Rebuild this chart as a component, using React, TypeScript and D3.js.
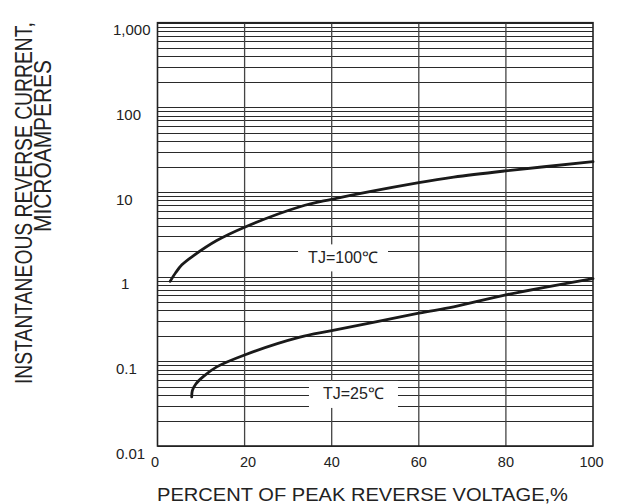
import React, { useEffect, useRef } from "react";
import * as d3 from "d3";

// percent of peak reverse voltage vs current (uA)
const pct100 = [2.9, 4.2, 5.6, 8.2, 13.6, 20, 32.7, 40, 60, 68, 80, 100];
const cur100 = [0.88, 1.12, 1.38, 1.76, 2.67, 3.84, 6.7, 8.2, 12.9, 15.0, 17.8, 22.8];

const pct25 = [7.85, 8.0, 8.8, 10.5, 13.6, 20, 32.7, 40, 60, 68, 80, 100];
const cur25 = [0.038, 0.045, 0.054, 0.066, 0.086, 0.119, 0.193, 0.23, 0.37, 0.44, 0.61, 0.95];

const xTicks = [0, 20, 40, 60, 80, 100];
const xTickLabels = ["0", "20", "40", "60", "80", "100"];
const yTicks = [0.01, 0.1, 1, 10, 100, 1000];
const yTickLabels = ["0.01", "0.1", "1", "10", "100", "1,000"];

const curveLabels = ["TJ=100\u2103", "TJ=25\u2103"];
const labelPct = [42.6, 45];
const labelCur = [1.69, 0.0412];
const labelBoxW = [90, 89];

const FONT = "'Liberation Sans', Arial, sans-serif";

const App = () => {
  const svgRef = useRef(null);

  useEffect(() => {
    if (!svgRef.current) return;
    const W = 617;
    const H = 504;

    const x = d3.scaleLinear().domain([0, 100]).range([157.5, 593]);
    const y = d3.scaleLog().domain([0.01, 1000]).range([446, 22.7]);

    const svg = d3.select(svgRef.current);
    svg.selectAll("*").remove();
    svg.attr("width", W).attr("height", H);

    // horizontal grid: every 1..9 of each decade
    const hLines = [];
    [0.01, 0.1, 1, 10, 100].forEach((d) => {
      for (let k = 1; k < 10; k++) hLines.push(d * k);
    });
    hLines.push(1000);

    svg
      .append("g")
      .selectAll("line")
      .data(hLines)
      .enter()
      .append("line")
      .attr("x1", x(0))
      .attr("x2", x(100))
      .attr("y1", (d) => Math.round(y(d)) + 0.5)
      .attr("y2", (d) => Math.round(y(d)) + 0.5)
      .attr("stroke", "#2a2a2a")
      .attr("stroke-width", 1.1);

    svg
      .append("g")
      .selectAll("line")
      .data([20, 40, 60, 80])
      .enter()
      .append("line")
      .attr("x1", (d) => x(d))
      .attr("x2", (d) => x(d))
      .attr("y1", y(1000))
      .attr("y2", y(0.01))
      .attr("stroke", "#444")
      .attr("stroke-width", 1.3);

    // frame
    svg
      .append("rect")
      .attr("x", x(0))
      .attr("y", y(1000))
      .attr("width", x(100) - x(0))
      .attr("height", y(0.01) - y(1000))
      .attr("fill", "none")
      .attr("stroke", "#222")
      .attr("stroke-width", 1.6);

    // curve label boxes hide the grid
    const labels = svg.append("g");
    curveLabels.forEach((t, i) => {
      const cx = x(labelPct[i]);
      const cy = y(labelCur[i]);
      labels
        .append("rect")
        .attr("x", cx - labelBoxW[i] / 2)
        .attr("y", cy - 13)
        .attr("width", labelBoxW[i])
        .attr("height", 27)
        .attr("fill", "#fff");
      labels
        .append("text")
        .attr("x", cx)
        .attr("y", cy + 5.5)
        .attr("text-anchor", "middle")
        .attr("font-family", FONT)
        .attr("font-size", 16)
        .attr("fill", "#222")
        .text(t);
    });

    const line = d3
      .line()
      .x((d) => x(d[0]))
      .y((d) => y(d[1]))
      .curve(d3.curveCatmullRom.alpha(0.5));

    [
      d3.zip(pct100, cur100),
      d3.zip(pct25, cur25),
    ].forEach((pts) => {
      svg
        .append("path")
        .attr("d", line(pts))
        .attr("fill", "none")
        .attr("stroke", "#1a1a1a")
        .attr("stroke-width", 2.8)
        .attr("stroke-linecap", "round");
    });

    // tick labels
    svg
      .append("g")
      .selectAll("text")
      .data(yTicks)
      .enter()
      .append("text")
      .attr("x", (d) => (d === 1000 ? 113 : d === 1 ? 121 : 116))
      .attr("y", (d) => y(d) + 12.5)
      .attr("font-family", FONT)
      .attr("font-size", 15)
      .attr("fill", "#222")
      .text((d, i) => yTickLabels[i]);

    svg
      .append("g")
      .selectAll("text")
      .data(xTicks)
      .enter()
      .append("text")
      .attr("x", (d) => x(d) - (d === 0 ? 2.5 : d === 100 ? 1.5 : d === 20 ? -3.5 : 0))
      .attr("y", 466.5)
      .attr("text-anchor", "middle")
      .attr("font-family", FONT)
      .attr("font-size", 14.5)
      .attr("fill", "#222")
      .text((d, i) => xTickLabels[i]);

    // axis titles
    svg
      .append("text")
      .attr("x", 157)
      .attr("y", 501)
      .attr("font-family", FONT)
      .attr("font-size", 18)
      .attr("textLength", 411)
      .attr("lengthAdjust", "spacingAndGlyphs")
      .attr("fill", "#222")
      .text("PERCENT OF PEAK REVERSE VOLTAGE,%");

    // condensed vertical titles, squeezed along the reading direction
    svg
      .append("text")
      .attr("transform", "translate(32,384) rotate(-90) scale(0.84,1)")
      .attr("font-family", FONT)
      .attr("font-size", 23)
      .attr("fill", "#222")
      .text("INSTANTANEOUS REVERSE CURRENT,");

    svg
      .append("text")
      .attr("transform", "translate(51,232) rotate(-90) scale(0.91,1)")
      .attr("font-family", FONT)
      .attr("font-size", 23)
      .attr("fill", "#222")
      .text("MICROAMPERES");
  }, []);

  return (
    <svg
      ref={svgRef}
      style={{ position: "absolute", left: 0, top: 0, display: "block", background: "#fff" }}
    ></svg>
  );
};

export default App;
